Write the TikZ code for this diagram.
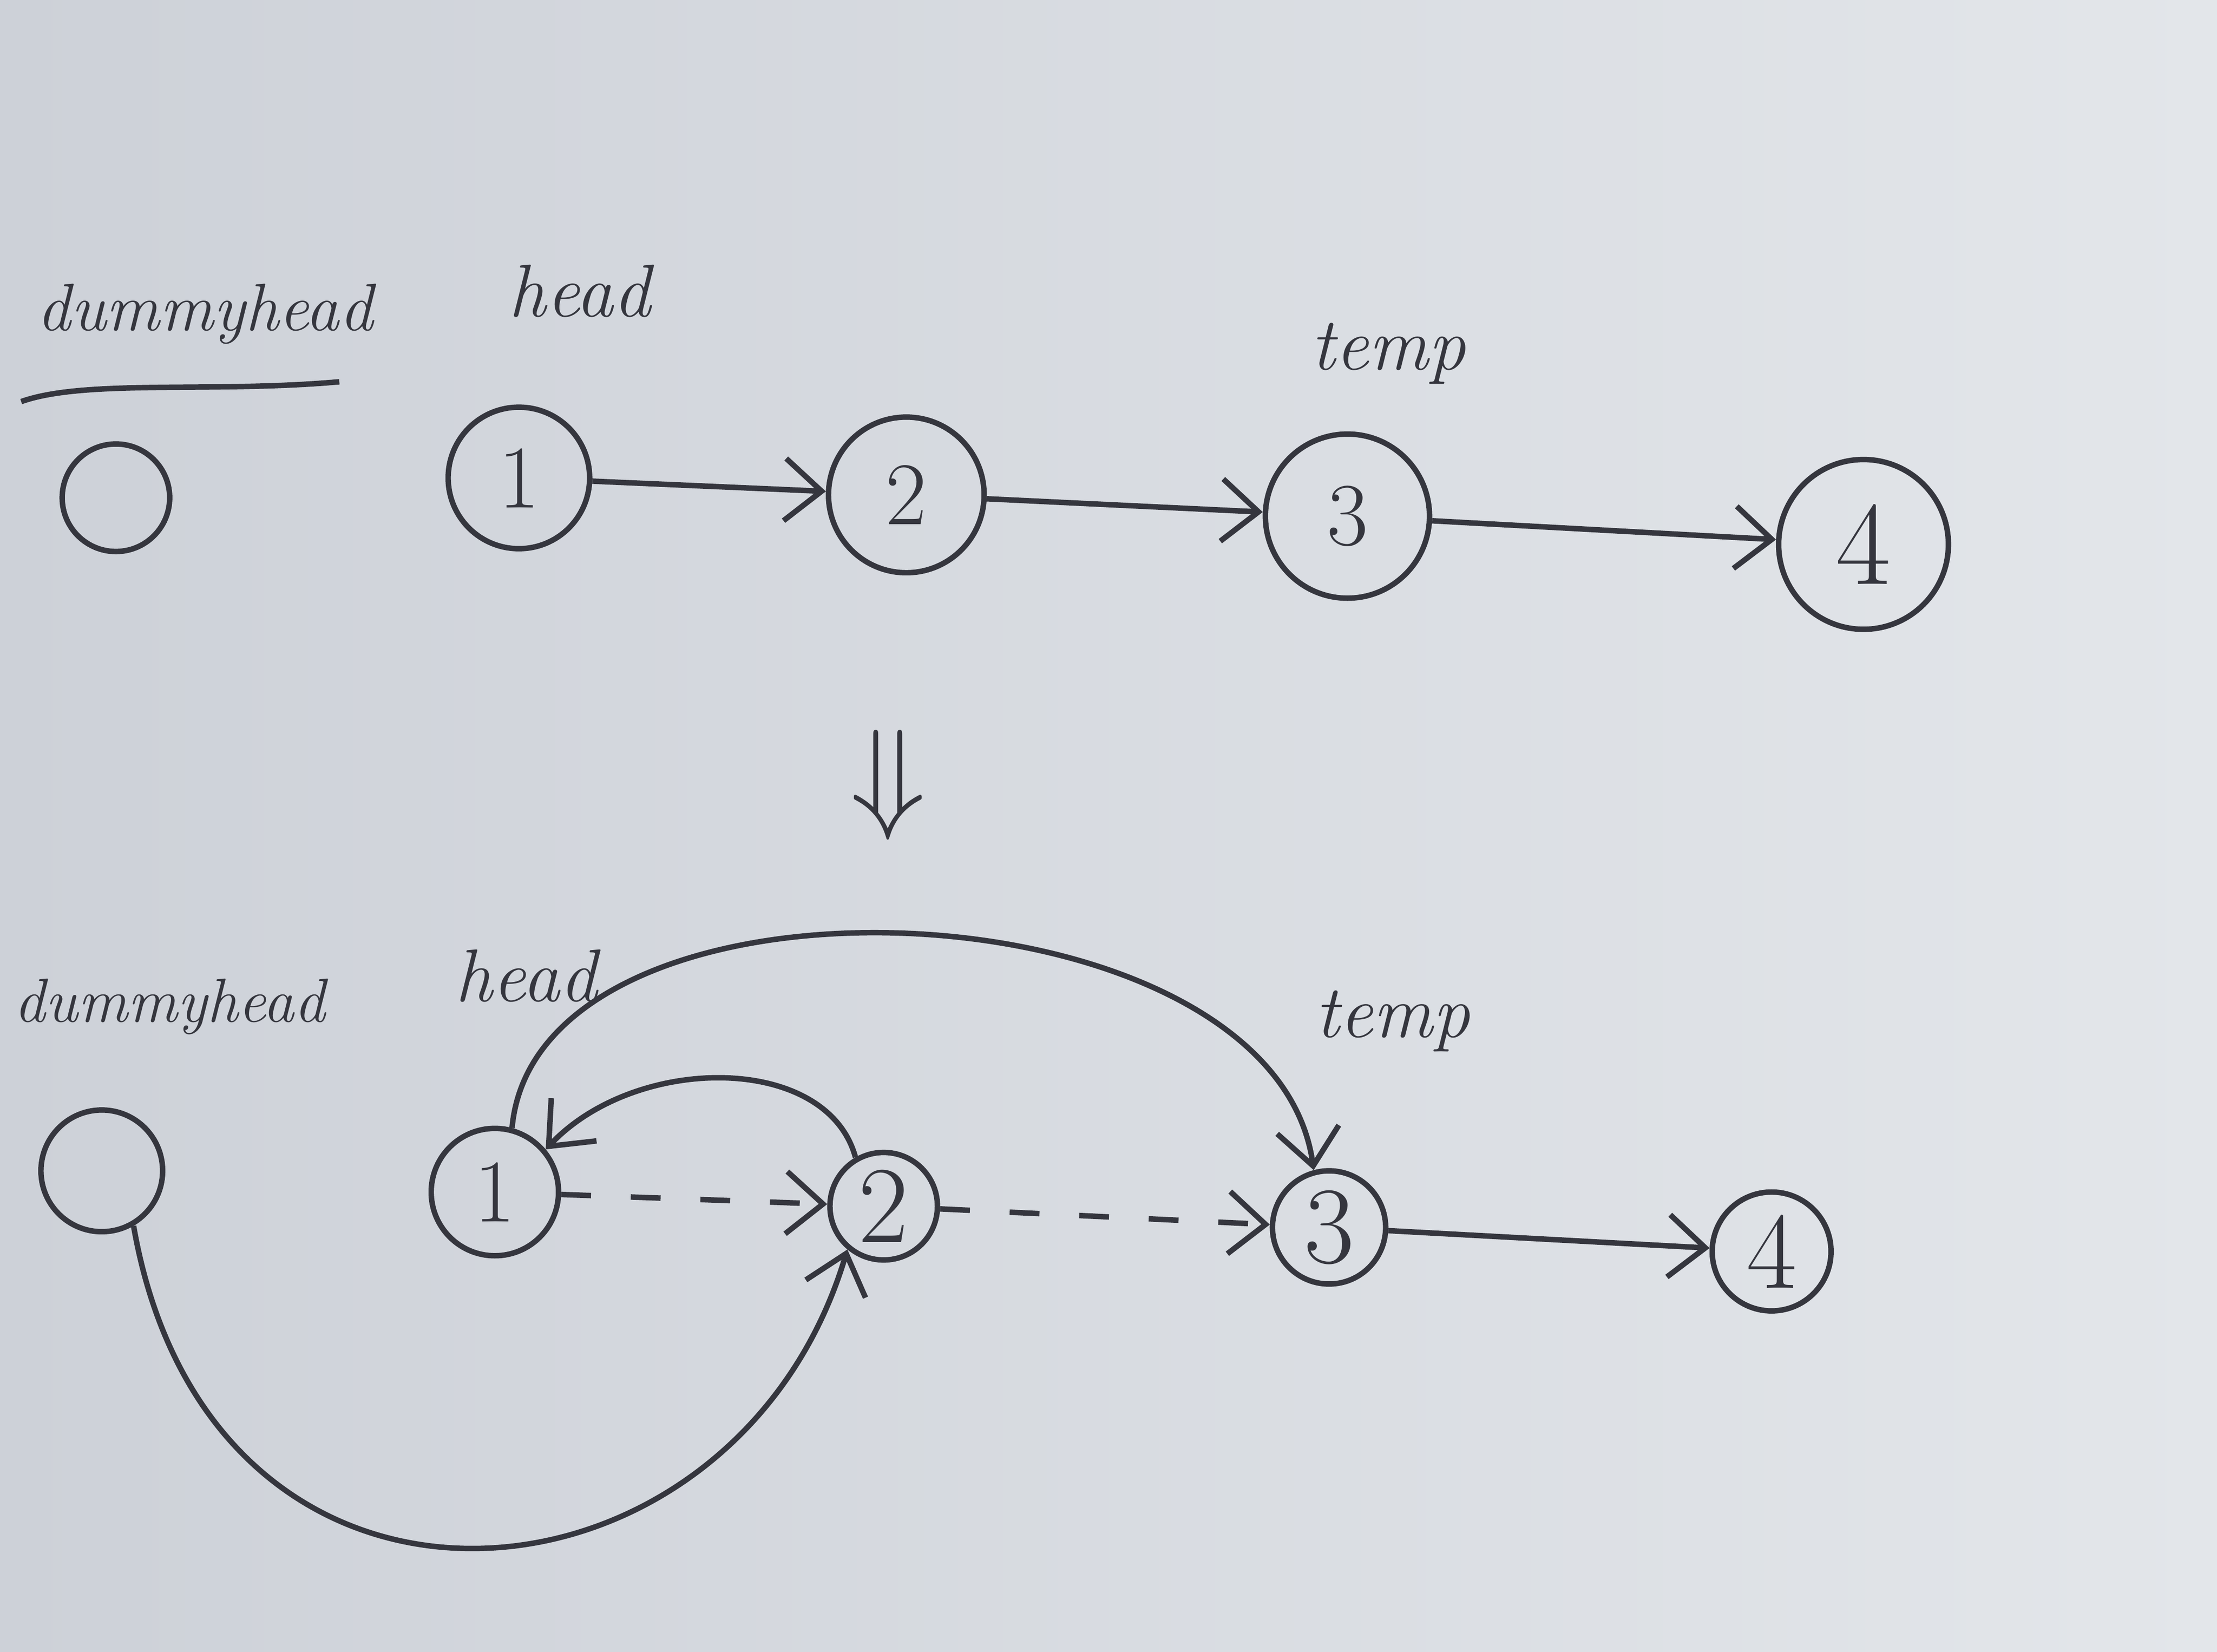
\documentclass[tikz,border=0pt]{standalone}
\usetikzlibrary{arrows.meta}
\definecolor{ink}{HTML}{35363E}
\definecolor{paperA}{HTML}{E3E6EA}
\definecolor{paperB}{HTML}{CDD1D8}
\begin{document}
\begin{tikzpicture}[x=0.01cm,y=-0.01cm,
  nodecirc/.style={circle,draw=ink,line width=1.1pt,inner sep=0pt,text=ink,font=\fontsize{18}{20}\selectfont},
  lbl/.style={text=ink,font=\itshape\fontsize{15}{17}\selectfont},
  link/.style={draw=ink,line width=1.1pt,-{Straight Barb[length=2.6mm,width=4.4mm]}},
  dlink/.style={link,dash pattern=on 6pt off 8pt}]
\shade[left color=paperB,right color=paperA] (0,0) rectangle (1568,1168);
\useasboundingbox (0,0) rectangle (1568,1168);
% ---------- top row ----------
\node[lbl,font=\itshape\fontsize{13.5}{16}\selectfont] (tdh) at (145,222) {dummyhead};
\coordinate (ul1) at (15,284);
\coordinate (ul2) at (240,270);
\draw[ink,line width=1.1pt] (ul1) .. controls (60,268) and (150,278) .. (ul2);
\node[lbl] (thead) at (410,206) {head};
\node[lbl] (ttemp) at (982,250) {temp};
\node[nodecirc,minimum size=0.76cm] (t0) at (82,352) {};
\node[nodecirc,minimum size=1.0cm] (t1) at (367,338) {1};
\node[nodecirc,minimum size=1.1cm] (t2) at (641,350) {2};
\node[nodecirc,minimum size=1.16cm] (t3) at (953,365) {3};
\node[nodecirc,minimum size=1.2cm,font=\fontsize{24}{26}\selectfont] (t4) at (1318,385) {4};
\draw[link] (t1) -- (t2);
\draw[link] (t2) -- (t3);
\draw[link] (t3) -- (t4);
% ---------- transition ----------
\node[text=ink,font=\fontsize{40}{40}\selectfont] (down) at (628,555) {$\Downarrow$};
% ---------- bottom row ----------
\node[lbl,font=\itshape\fontsize{12.5}{15}\selectfont] (bdh) at (120,712) {dummyhead};
\node[lbl] (bhead) at (372,690) {head};
\node[lbl] (btemp) at (985,722) {temp};
\node[nodecirc,minimum size=0.86cm] (b0) at (72,828) {};
\node[nodecirc,minimum size=0.9cm] (b1) at (350,843) {1};
\node[nodecirc,minimum size=0.76cm,font=\fontsize{22}{24}\selectfont] (b2) at (625,853) {2};
\node[nodecirc,minimum size=0.8cm,font=\fontsize{22}{24}\selectfont] (b3) at (940,868) {3};
\node[nodecirc,minimum size=0.84cm,font=\fontsize{22}{24}\selectfont] (b4) at (1253,885) {4};
\draw[dlink] (b1) -- (b2);
\draw[dlink] (b2) -- (b3);
\draw[link] (b3) -- (b4);
\draw[link] (b1.75) .. controls (380,600) and (900,620) .. (b3.105);
\draw[link] (b2.120) .. controls (585,745) and (450,745) .. (b1.40);
\draw[link] (b0.-60) .. controls (150,1185) and (520,1150) .. (b2.-130);
\end{tikzpicture}
\end{document}
